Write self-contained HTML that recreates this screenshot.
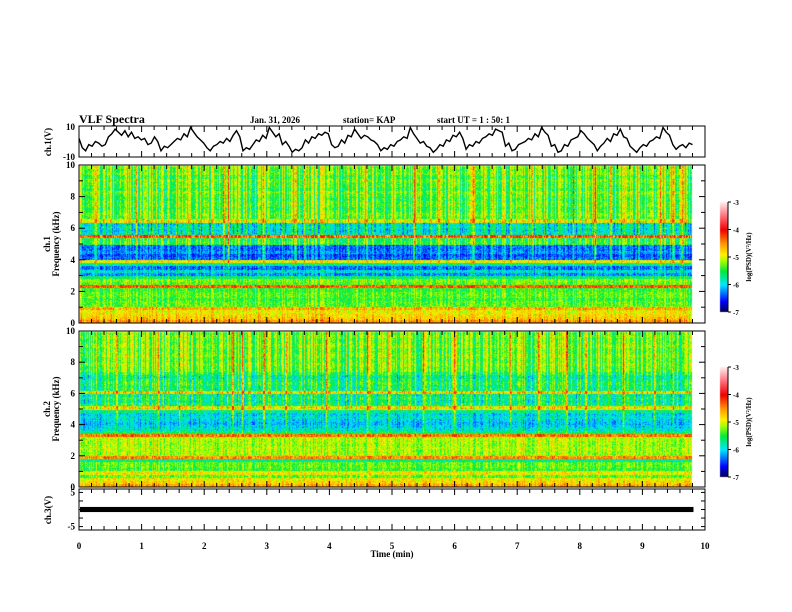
<!DOCTYPE html>
<html><head><meta charset="utf-8">
<style>
html,body{margin:0;padding:0;background:#fff;}
#wrap{position:relative;width:792px;height:612px;overflow:hidden;background:#fff;}
canvas{position:absolute;left:0;top:0;}
svg{position:absolute;left:0;top:0;}
text{font-family:"Liberation Serif",serif;font-weight:bold;fill:#000;}
</style></head>
<body>
<div id="wrap">
<canvas id="cv" width="792" height="612"></canvas>
<svg id="sv" width="792" height="612">
 <text x="79" y="123" font-size="12">VLF Spectra</text>
 <text x="250" y="123" font-size="9">Jan. 31, 2026</text>
 <text x="343" y="123" font-size="9">station= KAP</text>
 <text x="437" y="123" font-size="9">start  UT =   1 : 50: 1</text>
 <text transform="translate(51,142) rotate(-90)" text-anchor="middle" font-size="9">ch.1(V)</text>
 <text transform="translate(50,244) rotate(-90)" text-anchor="middle" font-size="9">ch.1</text>
 <text transform="translate(59,244) rotate(-90)" text-anchor="middle" font-size="9">Frequency  (kHz)</text>
 <text transform="translate(50,409) rotate(-90)" text-anchor="middle" font-size="9">ch.2</text>
 <text transform="translate(59,409) rotate(-90)" text-anchor="middle" font-size="9">Frequency  (kHz)</text>
 <text transform="translate(51,510) rotate(-90)" text-anchor="middle" font-size="9">ch.3(V)</text>
 <text x="392" y="557" text-anchor="middle" font-size="9">Time  (min)</text>
 <g id="axes"></g>
</svg>
</div>
<script>
// ---- data ----
const timeTicks = [0,1,2,3,4,5,6,7,8,9,10];
const freqTicks = [0,2,4,6,8,10];
const cbTicks = [-3,-4,-5,-6,-7];
// ch1 waveform (V) every 0.05 min from 0 to 9.8
const ch1Wave = [2,-4,-6,-2,-3,0,-1,-3,-2,3,5,8,6,4,7,3,6,2,3,1,2,-2,-1,3,0,-6,-3,-4,-2,0,2,1,5,3,9,6,3,1,-1,-4,-6,-3,-2,0,-1,2,0,4,7,3,-6,-4,-5,-2,1,0,4,2,9,6,3,5,-2,0,-3,-7,-5,-6,-4,1,-1,3,2,5,4,6,5,-2,-4,-3,1,-1,4,3,8,5,2,4,3,1,0,-2,-6,-4,-5,-2,-3,0,1,3,2,9,5,2,-1,0,-3,-4,-7,-5,-2,-3,1,0,4,3,6,2,-5,-2,-3,0,-1,2,3,5,4,8,7,6,-3,-1,-6,-5,-2,-1,0,2,1,5,3,9,6,4,-3,-2,-7,-6,-2,-3,1,2,3,7,5,2,0,-2,-6,-3,-1,2,0,5,4,8,3,2,-3,-5,-7,-4,-2,-3,0,1,3,2,9,6,4,-2,-5,-3,-2,-4,-1,-2];
// spectrum profile (log PSD) per 0.2 kHz bin, 0 -> 10 kHz
const ch1Profile = [-4.5,-4.7,-4.8,-4.9,-4.6,-5.3,-5.3,-5.4,-5.3,-5.3,-5.4,-4.3,-5.3,-5.2,-5.6,-6.2,-5.9,-6.3,-5.7,-4.9,-6.3,-6.4,-6.2,-6.3,-6.3,-5.4,-5.5,-4.3,-5.8,-5.9,-5.8,-5.9,-4.9,-5.3,-5.2,-5.3,-5.4,-5.3,-5.3,-5.4,-5.3,-5.2,-5.4,-5.3,-5.3,-5.2,-5.4,-5.2,-5.3,-5.2];
const ch2Profile = [-4.6,-4.8,-4.9,-5.3,-4.9,-5.4,-5.3,-5.3,-5.7,-4.5,-5.15,-5.15,-5.1,-5.15,-5.15,-5.1,-4.4,-5.6,-5.9,-6.0,-6.1,-6.0,-5.9,-6.0,-5.7,-4.9,-5.6,-5.7,-5.6,-5.7,-4.8,-5.6,-5.6,-5.5,-5.6,-5.7,-5.5,-5.3,-5.3,-5.2,-5.3,-5.3,-5.2,-5.3,-5.3,-5.2,-5.3,-5.3,-5.2,-5.3];
// impulsive events (time in min, strength)
const ch1EventTimes = [0.25,0.9,1.3,1.75,2.3,2.38,2.55,2.94,3.45,3.6,4.3,4.6,5.35,5.75,6.0,6.3,6.6,6.9,7.25,7.9,8.25,8.5,8.7,8.95,9.3,9.5,9.65];
const ch1EventAmp   = [0.9,0.6,0.7,0.7,0.8,1.2,0.9,1.3,1.1,0.9,1.0,0.8,0.9,1.0,0.8,0.9,0.8,1.1,0.8,0.7,1.2,0.9,0.8,0.9,1.0,1.1,0.9];
const ch2EventTimes = [0.6,1.25,1.6,2.45,2.6,2.95,3.3,3.95,4.6,4.95,5.5,6.0,6.9,7.35,7.8,8.1,8.7,9.2,9.5];
const ch2EventAmp   = [0.9,0.8,0.9,1.1,0.8,1.2,0.9,1.0,0.9,0.8,0.7,1.0,1.2,0.9,1.1,0.9,1.0,0.8,0.9];
const ch3Level = 0; const ch3Spread = 0.75;
// ---- layout ----
const X0=79, X1=705, DATA_END=9.8;
const P = {t1:[126,157], s1:[165,323], s2:[331,487], t3:[489,530]};
const xs = t => X0 + (X1-X0)*t/10;
const cmapStops=[[-7,[0,0,70]],[-6.6,[0,0,255]],[-6.0,[0,230,255]],[-5.5,[0,235,60]],[-5.15,[160,255,0]],[-4.9,[255,240,0]],[-4.5,[255,150,0]],[-4.0,[240,0,0]],[-3.5,[255,110,120]],[-3.0,[255,235,235]]];
function cmap(v){
 if(v<=-7) return cmapStops[0][1];
 for(let i=1;i<cmapStops.length;i++){ if(v<=cmapStops[i][0]){ const a=cmapStops[i-1],b=cmapStops[i]; const f=(v-a[0])/(b[0]-a[0]); return a[1].map((c,k)=>Math.round(c+(b[1][k]-c)*f)); } }
 return cmapStops[cmapStops.length-1][1];
}
function h(a,b){ let x=(a*374761393+b*668265263)|0; x=(x^(x>>>13))*1274126177|0; return ((x^(x>>>16))>>>0)/4294967296; }
const cv=document.getElementById('cv'); const ctx=cv.getContext('2d');
function drawSpec(y0,y1,profile,evT,evA,seed){
 const x0=X0+1, x1=Math.round(xs(DATA_END)); const W=x1-x0, H=y1-y0;
 const img=ctx.createImageData(W,H);
 const colBias=[]; for(let c=0;c<W;c++) colBias.push((h(c,seed)-0.5)*0.9);
 for(let c=0;c<W;c++){
  const t=(c+0.5)/(x1-x0)*DATA_END;
  let ev=0; for(let k=0;k<evT.length;k++){ const d=Math.abs(t-evT[k]); if(d<0.02) ev=Math.max(ev,evA[k]*(1-d/0.025)); }
  for(let r=0;r<H;r++){
   const f=10*(1-(r+0.5)/H); const bin=Math.min(profile.length-1,Math.floor(f/10*profile.length));
   const hf=f>5?1:0.5;
   let v=profile[bin]+colBias[c]*hf+(h(c*7+r,r+seed)-0.5)*0.5;
   if(ev>0 && f>3) v+=ev*(0.7+0.5*h(c,r*3+seed))*Math.min(1,(f-3)/1.5);
   const col=cmap(v); const i=(r*W+c)*4; img.data[i]=col[0];img.data[i+1]=col[1];img.data[i+2]=col[2];img.data[i+3]=255;
  }
 }
 ctx.putImageData(img,x0,y0);
}
drawSpec(P.s1[0]+1,P.s1[1],ch1Profile,ch1EventTimes,ch1EventAmp,11);
drawSpec(P.s2[0]+1,P.s2[1],ch2Profile,ch2EventTimes,ch2EventAmp,29);
function drawCb(yTop,yBot){
 for(let y=yTop;y<yBot;y++){ const v=-3-4*(y-yTop)/(yBot-yTop); const c=cmap(v); ctx.fillStyle=`rgb(${c[0]},${c[1]},${c[2]})`; ctx.fillRect(720,y,8,1); }
}
drawCb(202,312); drawCb(367,477);
// ---- svg axes ----
const NS='http://www.w3.org/2000/svg'; const g=document.getElementById('axes');
function el(tag,attrs){ const e=document.createElementNS(NS,tag); for(const k in attrs) e.setAttribute(k,attrs[k]); g.appendChild(e); return e; }
function frame(y0,y1,name){
 const r=el('rect',{x:X0,y:y0,width:X1-X0,height:y1-y0,fill:'none',stroke:'#000','stroke-width':1});
 
 
 for(let i=0;i<=50;i++){ const x=X0+(X1-X0)*i/50; const L=(i%5==0)?6:4;
  el('line',{x1:x,y1:y0,x2:x,y2:y0+L,stroke:'#000'}); el('line',{x1:x,y1:y1,x2:x,y2:y1-L,stroke:'#000'}); }
}
frame(P.t1[0],P.t1[1],'ch1-wave'); frame(P.s1[0],P.s1[1],'ch1-spectrogram'); frame(P.s2[0],P.s2[1],'ch2-spectrogram'); frame(P.t3[0],P.t3[1],'ch3-wave');
function ylab(txt,y,name){ const t=el('text',{x:75,y:y+3,'text-anchor':'end','font-size':9}); t.textContent=txt;
   }
ylab('10',P.t1[0]+1,'ch1-ytick-10'); ylab('-10',P.t1[1],'ch1-ytick-neg10');
[[P.s1,'ch1'],[P.s2,'ch2']].forEach(([p,n])=>{
 freqTicks.forEach(f=>{ const y=p[1]-(p[1]-p[0])*f/10; ylab(String(f),y,n+'-freq-tick-'+f); });
 for(let f=0;f<=10;f++){ const y=p[1]-(p[1]-p[0])*f/10; const L=f%2==0?6:4;
  el('line',{x1:X0,y1:y,x2:X0+L,y2:y,stroke:'#000'}); el('line',{x1:X1,y1:y,x2:X1-L,y2:y,stroke:'#000'}); }
});
const y3=v=>P.t3[0]+(P.t3[1]-P.t3[0])*(6-v)/12;
ylab('5',y3(5),'ch3-ytick-5'); ylab('-5',y3(-5),'ch3-ytick-neg5');
for(let v=-5;v<=5;v+=2.5){ el('line',{x1:X0,y1:y3(v),x2:X0+4,y2:y3(v),stroke:'#000'}); el('line',{x1:X1,y1:y3(v),x2:X1-4,y2:y3(v),stroke:'#000'}); }
timeTicks.forEach(t=>{ const tx=el('text',{x:xs(t),y:549,'text-anchor':'middle','font-size':9}); tx.textContent=String(t);
   });
const y1=v=>P.t1[0]+(P.t1[1]-P.t1[0])*(10-v)/20;
const step = DATA_END/(ch1Wave.length-1);
let d=''; ch1Wave.forEach((v,i)=>{ d+=(i?'L':'M')+xs(i*step).toFixed(1)+','+y1(v).toFixed(1); });
const wl=el('path',{d:d,fill:'none',stroke:'#000','stroke-width':1.4});


const band=el('rect',{x:X0+1,y:y3(ch3Level+ch3Spread),width:xs(DATA_END)-X0,height:y3(ch3Level-ch3Spread)-y3(ch3Level+ch3Spread),fill:'#000'});


[[202,312,'ch1'],[367,477,'ch2']].forEach(([a,b,n])=>{
 el('line',{x1:728,y1:a,x2:728,y2:b,stroke:'#000'});
 cbTicks.forEach(v=>{ const y=a+(b-a)*(-3-v)/4; el('line',{x1:728,y1:y,x2:731,y2:y,stroke:'#000'});
  const t=el('text',{x:733,y:y+3,'font-size':7}); t.textContent=String(v);
    });
 const lt=el('text',{transform:`translate(751,${(a+b)/2}) rotate(-90)`,'text-anchor':'middle','font-size':7});
 lt.textContent='log(PSD)(V²/Hz)';
  
});
</script>
</body></html>
